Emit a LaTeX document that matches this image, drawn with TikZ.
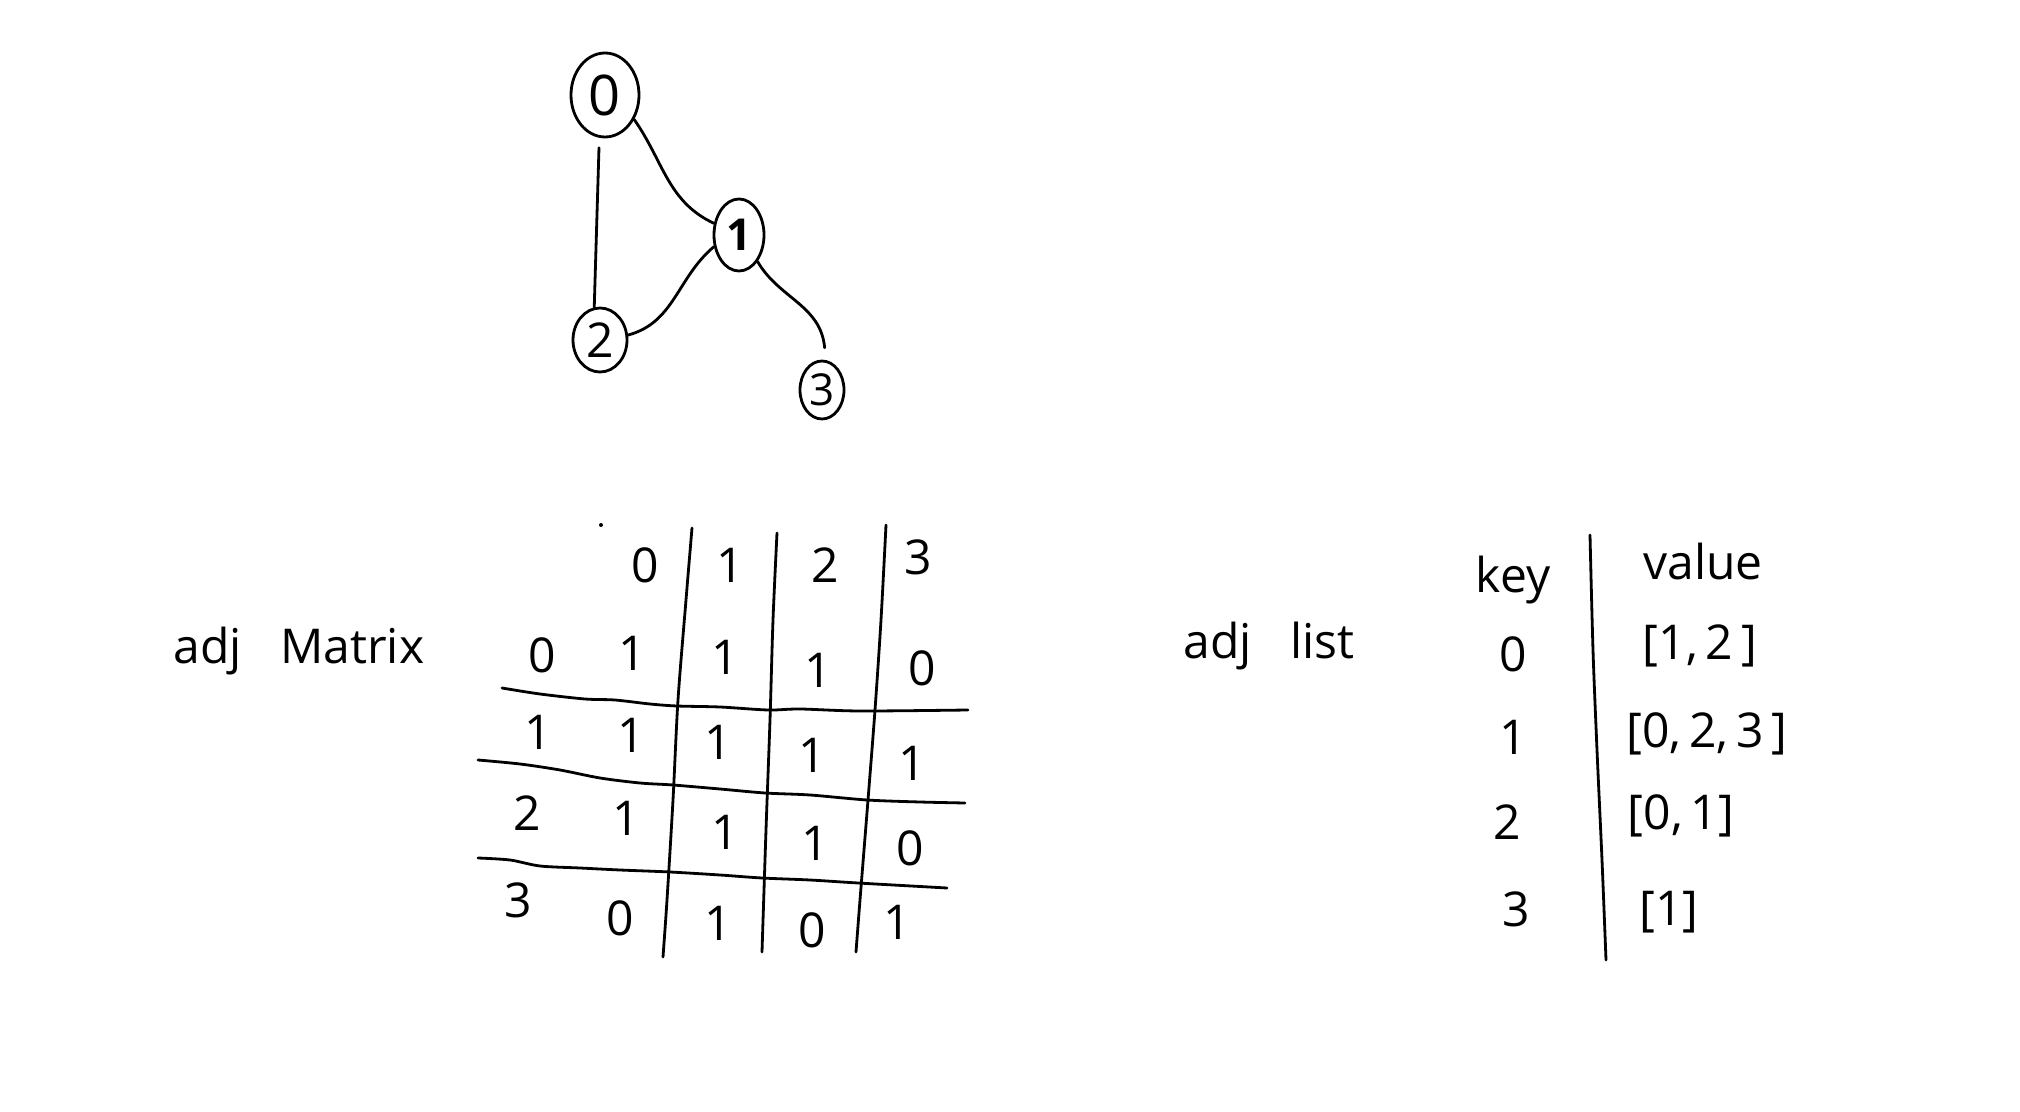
\documentclass[tikz,border=0pt]{standalone}
\usepackage{fontspec}
\setmainfont{Open Sans}
\usetikzlibrary{shapes.geometric}
\begin{document}
\begin{tikzpicture}[x=0.5pt,y=-0.5pt, line width=1.4pt, line cap=round, line join=round,
  vtx/.style={draw, ellipse, inner sep=0pt},
  dig/.style={font=\fontsize{24}{24}\selectfont, inner sep=0pt},
  lbl/.style={font=\fontsize{24}{24}\selectfont, inner sep=0pt}]
\useasboundingbox[fill=white] (0,0) rectangle (2020,1112);

% graph
\node[vtx, minimum width=34pt, minimum height=42pt, font=\fontsize{28}{28}\selectfont] (n0) at (605,95) {0};
\node[vtx, minimum width=25pt, minimum height=36pt, font=\fontsize{22}{22}\bfseries\selectfont] (n1) at (739,235) {1};
\node[vtx, minimum width=27pt, minimum height=32pt, font=\fontsize{24}{24}\selectfont] (n2) at (600,340) {2};
\node[vtx, minimum width=22pt, minimum height=29pt, font=\fontsize{22}{22}\selectfont] (n3) at (822,390) {3};

\draw (n0.-40) to[out=-55,in=155] (n1.155);
\draw ([yshift=-5pt]n0.262) -- (n2.100);
\draw (n1.205) to[out=-140,in=15] (n2.10);
\draw (n1.-55) to[out=-60,in=95] ([yshift=6pt]n3.85);

% adjacency matrix
\node[lbl] (am) at (299,651) {adj\hspace{0.8em}Matrix};
\fill (601,525) circle (1pt);
\node[dig] (c0) at (645,565) {0};
\node[dig] (c1) at (730,565) {1};
\node[dig] (c2) at (825,565) {2};
\node[dig] (c3) at (918,557) {3};
\node[dig] (r0) at (542,655) {0};
\node[dig] (r1) at (538,732) {1};
\node[dig] (r2) at (527,813) {2};
\node[dig] (r3) at (518,900) {3};

\node[dig] at (632,653) {1};
\node[dig] at (725,657) {1};
\node[dig] at (818,670) {1};
\node[dig] at (922,668) {0};
\node[dig] at (631,735) {1};
\node[dig] at (718,742) {1};
\node[dig] at (812,755) {1};
\node[dig] at (912,763) {1};
\node[dig] at (626,818) {1};
\node[dig] at (725,832) {1};
\node[dig] at (815,843) {1};
\node[dig] at (910,848) {0};
\node[dig] at (620,918) {0};
\node[dig] at (718,923) {1};
\node[dig] at (812,930) {0};
\node[dig] at (897,922) {1};

\draw plot[smooth] coordinates {(692,528) (686,600) (678,700) (673,800) (667,900) (663,957)};
\draw plot[smooth] coordinates {(777,533) (773,620) (770,720) (766,830) (762,952)};
\draw plot[smooth] coordinates {(886,525) (881,620) (875,710) (868,800) (860,900) (856,952)};
\draw plot[smooth] coordinates {(502,688) (540,694) (585,699) (615,700) (650,704) (677,706) (720,707) (768,710) (800,709) (860,711) (968,710)};
\draw plot[smooth] coordinates {(478,760) (520,764) (560,770) (600,778) (640,783) (673,785) (720,789) (765,793) (810,795) (867,800) (920,802) (965,803)};
\draw plot[smooth] coordinates {(478,858) (510,860) (540,866) (580,868) (620,870) (670,872) (720,875) (762,878) (810,880) (858,883) (947,888)};

% adjacency list
\node[lbl] (al) at (1269,646) {adj\hspace{0.8em}list};
\node[lbl] (key) at (1513,580) {key};
\node[lbl] (val) at (1703,562) {value};
\draw plot[smooth] coordinates {(1590,535) (1593,650) (1597,750) (1602,860) (1606,960)};
\node[dig] (k0) at (1513,654) {0};
\node[dig] (k1) at (1513,737) {1};
\node[dig] (k2) at (1507,822) {2};
\node[dig] (k3) at (1516,909) {3};
\node[lbl] (v0) at (1700,646) {[1,\,2\,]};
\node[lbl] (v1) at (1707,734) {[0,\,2,\,3\,]};
\node[lbl] (v2) at (1681,816) {[0,\,1]};
\node[lbl] (v3) at (1669,912) {[1]};
\end{tikzpicture}
\end{document}
